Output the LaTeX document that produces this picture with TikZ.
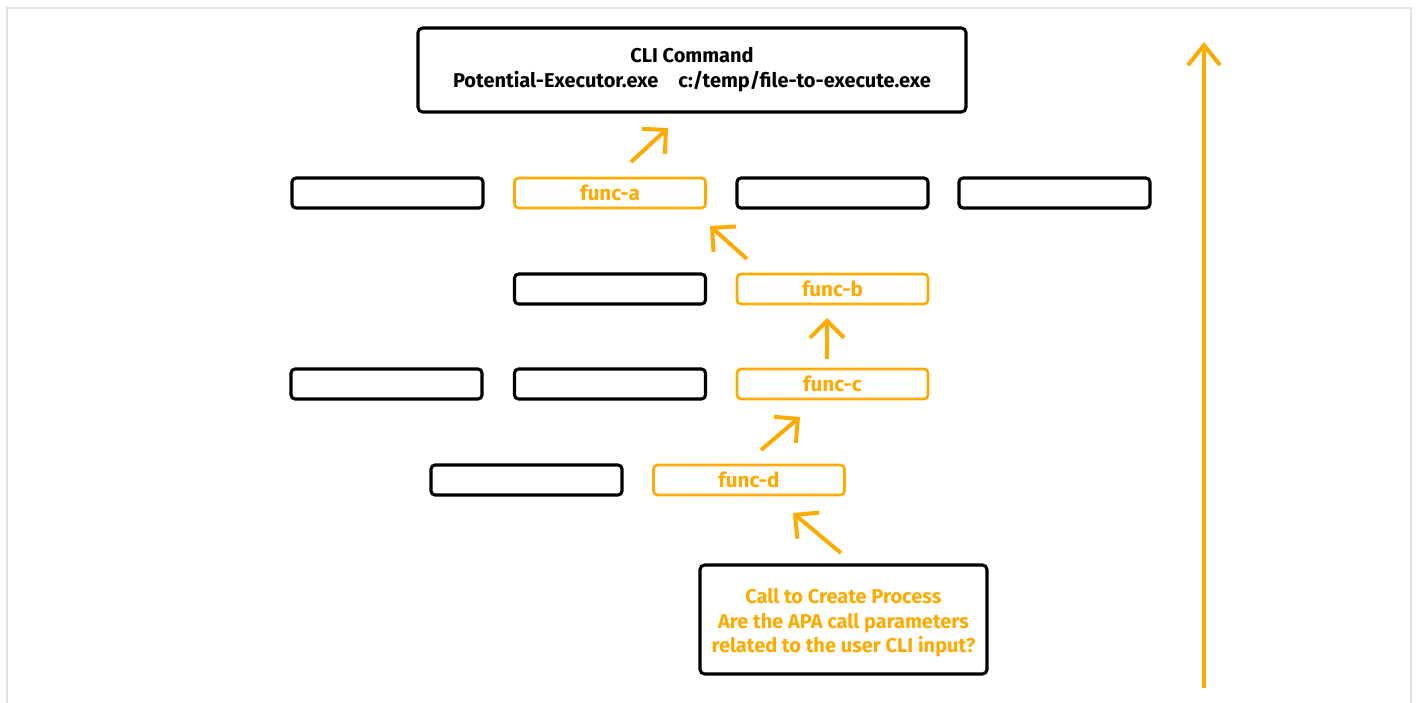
\documentclass[tikz,border=0pt]{standalone}
\usepackage{fontspec}
\setmainfont{Fira Sans}
\usetikzlibrary{arrows.meta}
\definecolor{orng}{HTML}{FFAA00}
\definecolor{frm}{HTML}{E2E2E2}
\tikzset{
  box/.style={draw=black, line width=2.3pt, rounded corners=3pt, minimum width=143.25pt, minimum height=22.5pt, inner sep=0pt, font=\bfseries\fontsize{15.5}{18}\selectfont},
  fbox/.style={box, draw=orng, line width=2pt, text=orng},
  bigbox/.style={draw=black, line width=2.3pt, rounded corners=3.5pt, inner sep=0pt, align=center, font=\bfseries\fontsize{15}{18.6}\selectfont},
  flow/.style={draw=orng, line width=3pt, -{Straight Barb[length=12.75pt,width=25.5pt,line width=3pt]}},
  bigflow/.style={draw=orng, line width=3pt, -{Straight Barb[length=15pt,width=24pt,line width=3pt]}}
}
\begin{document}
\begin{tikzpicture}[x=0.75pt,y=-0.75pt]
\useasboundingbox (0,0) rectangle (1417,703);
\draw[frm, line width=1.5pt] (6.5,720) -- (6.5,7.5) -- (1411,7.5) -- (1411,720);
% top box
\node[bigbox, minimum width=411pt, minimum height=63pt] (cli) at (692,70) {CLI Command\\Potential-Executor.exe\quad c:/temp/file-to-execute.exe};
% row 1
\node[box] (r1a) at (387.5,193) {};
\node[fbox] (fa) at (610,193) {func-a};
\node[box] (r1c) at (832.5,193) {};
\node[box] (r1d) at (1054.5,193) {};
% row 2
\node[box] (r2a) at (610,289) {};
\node[fbox] (fb) at (832.5,289) {func-b};
% row 3
\node[box] (r3a) at (386.5,384) {};
\node[box] (r3b) at (610,384) {};
\node[fbox] (fc) at (832.5,384) {func-c};
% row 4
\node[box] (r4a) at (526.5,480) {};
\node[fbox] (fd) at (749,480) {func-d};
% bottom box
\node[bigbox, minimum width=215.25pt, minimum height=81.75pt,
  label={[name=calltext, align=center, text=orng, yshift=-2.4pt, font=\bfseries\fontsize{15}{18.6}\selectfont]center:Call to Create Process\\Are the APA call parameters\\related to the user CLI input?}] (call) at (843.5,619.5) {};
% arrow coordinates
\coordinate (a1s) at (631,162); \coordinate (a1e) at (668,128);
\coordinate (a2s) at (747,259); \coordinate (a2e) at (710,226);
\coordinate (a3s) at (827,359); \coordinate (a3e) at (827,318);
\coordinate (a4s) at (761,450); \coordinate (a4e) at (800,417);
\coordinate (a5s) at (841,553); \coordinate (a5e) at (793,513);
\coordinate (bs) at (1204,688); \coordinate (be) at (1204,42);
\draw[flow] (a1s) -- (a1e);
\draw[flow] (a2s) -- (a2e);
\draw[flow] (a3s) -- (a3e);
\draw[flow] (a4s) -- (a4e);
\draw[flow] (a5s) -- (a5e);
\draw[bigflow] (bs) -- (be);
\end{tikzpicture}
\end{document}
